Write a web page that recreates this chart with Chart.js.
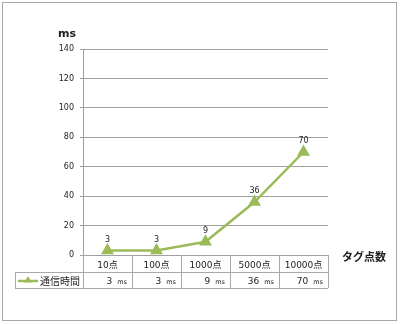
<!DOCTYPE html>
<html><head><meta charset="utf-8">
<script src="https://cdn.jsdelivr.net/npm/chart.js@4/dist/chart.umd.min.js"></script>
<style>html,body{margin:0;padding:0;background:#fff}#wrap{width:400px;height:324px;position:relative}</style>
</head><body><div id="wrap"><canvas id="c" width="400" height="324"></canvas></div>
<script>
const categories = ['10点', '100点', '1000点', '5000点', '10000点'];
const values = [3, 3, 9, 36, 70];
const seriesName = '通信時間';
const valueUnit = 'ms';
const yAxisTitle = 'ms';
const xAxisTitle = 'タグ点数';
const yMin = 0, yMax = 140, yStep = 20;

const GREEN = '#9bbb59';
const GRID = '#a0a0a0';
const TEXT = '#222';
const LATIN = '"DejaVu Sans", "Noto Sans CJK JP", sans-serif';
const CJK = '"Noto Sans CJK JP", "DejaVu Sans", sans-serif';

function drawTriangle(ctx, x, y, r) {
  ctx.beginPath();
  ctx.moveTo(x, y - r);
  ctx.lineTo(x + r * 0.95, y + r * 0.6);
  ctx.lineTo(x - r * 0.95, y + r * 0.6);
  ctx.closePath();
  ctx.fill();
}

const decor = {
  id: 'decor',
  beforeDraw(chart) {
    const ctx = chart.ctx;
    ctx.save();
    ctx.fillStyle = '#fff';
    ctx.fillRect(0, 0, chart.width, chart.height);
    ctx.strokeStyle = '#a8a8a8';
    ctx.lineWidth = 1;
    ctx.strokeRect(2.5, 2.5, 394, 318);
    ctx.restore();
  },
  afterDraw(chart) {
    const ctx = chart.ctx;
    const area = chart.chartArea;
    const xs = chart.scales.x;
    const n = categories.length;
    const bw = (area.right - area.left) / n;
    const row1Top = area.bottom, row1Bot = area.bottom + 17, row2Bot = area.bottom + 33;
    const legLeft = 15;
    ctx.save();
    // data labels
    const meta = chart.getDatasetMeta(0);
    ctx.fillStyle = TEXT;
    ctx.font = '8px ' + LATIN;
    ctx.textAlign = 'center';
    ctx.textBaseline = 'alphabetic';
    meta.data.forEach((pt, i) => {
      ctx.fillText(String(values[i]), pt.x, pt.y - 9);
    });
    // table grid
    ctx.strokeStyle = '#a8a8a8';
    ctx.lineWidth = 1;
    ctx.beginPath();
    ctx.moveTo(area.left, row1Bot + 0.5); ctx.lineTo(area.right, row1Bot + 0.5);
    ctx.moveTo(legLeft, row1Bot + 0.5); ctx.lineTo(area.left, row1Bot + 0.5);
    ctx.moveTo(legLeft, row2Bot + 0.5); ctx.lineTo(area.right, row2Bot + 0.5);
    ctx.moveTo(legLeft + 0.5, row1Bot); ctx.lineTo(legLeft + 0.5, row2Bot);
    for (let i = 0; i <= n; i++) {
      const x = Math.round(area.left + i * bw) + 0.5;
      ctx.moveTo(x, row1Top); ctx.lineTo(x, row2Bot);
    }
    ctx.stroke();
    // category row
    ctx.fillStyle = TEXT;
    ctx.font = '9px ' + LATIN;
    ctx.textAlign = 'center';
    categories.forEach((c, i) => {
      const cx = xs.getPixelForValue(i);
      ctx.fillText(c, cx, row1Top + 13);
    });
    // value row
    categories.forEach((c, i) => {
      const right = area.left + (i + 1) * bw - 5;
      ctx.font = '6.5px ' + LATIN;
      ctx.textAlign = 'right';
      ctx.fillText(valueUnit, right, row1Bot + 12);
      const uw = ctx.measureText(valueUnit).width;
      ctx.font = '9px ' + LATIN;
      ctx.fillText(String(values[i]), right - uw - 5, row1Bot + 12);
    });
    // legend cell
    ctx.strokeStyle = GREEN;
    ctx.lineWidth = 2.5;
    ctx.beginPath();
    ctx.moveTo(18, row1Bot + 9); ctx.lineTo(38, row1Bot + 9);
    ctx.stroke();
    ctx.fillStyle = GREEN;
    drawTriangle(ctx, 28, row1Bot + 8, 4);
    ctx.fillStyle = TEXT;
    ctx.font = '10px ' + CJK;
    ctx.textAlign = 'left';
    ctx.fillText(seriesName, 40, row1Bot + 12.5);
    // titles
    ctx.font = 'bold 11px ' + LATIN;
    ctx.textAlign = 'center';
    ctx.fillText(yAxisTitle, 67, 37);
    ctx.font = 'bold 11px ' + CJK;
    ctx.textAlign = 'left';
    ctx.fillText(xAxisTitle, 342, 261);
    ctx.restore();
  }
};

new Chart(document.getElementById('c'), {
  type: 'line',
  data: {
    labels: categories,
    datasets: [{
      label: seriesName,
      data: values,
      borderColor: GREEN,
      backgroundColor: GREEN,
      borderWidth: 2.5,
      pointStyle: 'triangle',
      pointRadius: 5,
      pointHoverRadius: 5,
      pointBackgroundColor: GREEN,
      pointBorderColor: GREEN,
      tension: 0
    }]
  },
  options: {
    responsive: false,
    animation: false,
    events: [],
    layout: { padding: { left: 0, right: 72, top: 49, bottom: 69 } },
    plugins: { legend: { display: false }, tooltip: { enabled: false } },
    scales: {
      x: { type: 'category', offset: true, display: false },
      y: {
        min: yMin, max: yMax,
        afterFit(scale) { scale.width = 83; },
        ticks: { stepSize: yStep, color: TEXT, font: { family: LATIN, size: 8 }, padding: 6 },
        grid: { color: GRID, lineWidth: 1, tickLength: 3, drawTicks: true },
        border: { display: true, color: GRID, width: 1 }
      }
    }
  },
  plugins: [decor]
});
</script></body></html>
